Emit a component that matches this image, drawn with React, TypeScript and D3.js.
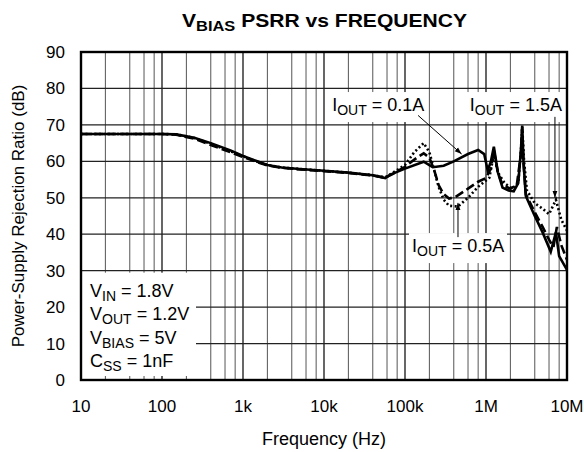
import React from "react";
import * as d3 from "d3";

// frequency (Hz) / PSRR (dB)
const freqSolid = [10, 100, 150, 250, 400, 700, 1000, 1500, 2000, 3000, 5000, 10000, 20000, 40000, 57000, 65000, 100000, 170000, 220000, 300000, 400000, 600000, 800000, 950000, 1050000, 1150000, 1250000, 1400000, 1600000, 1900000, 2200000, 2500000, 2700000, 2800000, 2900000, 3100000, 4000000, 5000000, 6300000, 7300000, 8000000, 10000000];
const psrrSolid = [67.5, 67.5, 67.4, 66.5, 65, 63, 61.5, 60, 59, 58.3, 57.9, 57.4, 56.9, 56.2, 55.4, 56.3, 58, 59.9, 58.4, 58.8, 60, 62, 63.1, 62, 57.5, 60, 64, 57, 52.8, 52, 51.8, 54, 63, 69.8, 60, 50.5, 45, 40.5, 35.2, 40.5, 34, 30.2];

const freqDashed = [10, 100, 150, 250, 400, 700, 1000, 1500, 2000, 3000, 5000, 10000, 20000, 40000, 57000, 70000, 100000, 140000, 170000, 200000, 230000, 260000, 300000, 350000, 420000, 600000, 800000, 1000000, 1150000, 1250000, 1400000, 1600000, 2000000, 2400000, 2700000, 2800000, 2900000, 3100000, 4000000, 5000000, 6000000, 6800000, 7500000, 8500000, 10000000];
const psrrDashed = [67.5, 67.5, 67.3, 66.2, 64.5, 62.5, 61.2, 59.8, 58.9, 58.2, 57.8, 57.3, 56.8, 56.1, 55.5, 56.5, 58.5, 61, 62.2, 61, 57.5, 53.5, 51, 49.8, 50.2, 52.5, 54.4, 55.4, 58, 63, 57, 53.5, 52.5, 53.5, 62, 69, 60, 51, 46, 42, 38.5, 36.5, 42, 37, 33];

const freqDotted = [10, 100, 150, 250, 400, 700, 1000, 1500, 2000, 3000, 5000, 10000, 20000, 40000, 57000, 70000, 100000, 130000, 170000, 200000, 230000, 260000, 300000, 350000, 450000, 600000, 800000, 1100000, 1250000, 1400000, 1700000, 2100000, 2500000, 2700000, 2800000, 2950000, 3200000, 4000000, 5000000, 6000000, 7300000, 8500000, 10000000];
const psrrDotted = [67.5, 67.5, 67.4, 66.4, 64.8, 62.8, 61.4, 59.9, 59, 58.3, 57.9, 57.4, 56.9, 56.2, 55.6, 56.8, 59, 62.5, 65, 62.5, 57.5, 53, 49.5, 47.8, 47.6, 50, 53, 55.5, 62, 57, 54, 52.5, 54, 63, 69.5, 60, 52, 48.5, 47, 45.5, 49.4, 44, 41];

const xTicks = [10, 100, 1000, 10000, 100000, 1000000, 10000000];
const xTickLabels = ["10", "100", "1k", "10k", "100k", "1M", "10M"];
const yTicks = [0, 10, 20, 30, 40, 50, 60, 70, 80, 90];
const minorSteps = [2, 4, 6, 8];
const conditions = [
  ["V", "IN", " = 1.8V"],
  ["V", "OUT", " = 1.2V"],
  ["V", "BIAS", " = 5V"],
  ["C", "SS", " = 1nF"],
];

const width = 584, height = 452;
const margin = { top: 52, right: 17, bottom: 72, left: 81 };
const font = "'Liberation Sans', Arial, sans-serif";

export default function App() {
  const x = d3.scaleLog().domain([10, 1e7]).range([margin.left, width - margin.right]);
  const y = d3.scaleLinear().domain([0, 90]).range([height - margin.bottom, margin.top]);

  const line = d3.line<[number, number]>().x(d => x(d[0])).y(d => y(d[1]));
  const pts = (f: number[], v: number[]) => f.map((ff, i) => [ff, v[i]] as [number, number]);

  const minor: number[] = [];
  xTicks.slice(0, -1).forEach(t => minorSteps.forEach(s => minor.push(t * s)));

  const sub = (main: string, s: string, rest: string, fs: number) => (
    <>
      {main}
      <tspan dy={4} fontSize={fs * 0.78}>{s}</tspan>
      <tspan dy={-4}>{rest}</tspan>
    </>
  );

  // annotation anchors in data units
  const a01 = { fx: 12600, db: 73.8 };
  const a15 = { fx: 630000, db: 73.8 };
  const a05 = { fx: 122000, db: 35.1 };

  return (
    <svg width={width} height={height} style={{ position: "absolute", left: 0, top: 0, background: "#fff" }} fontFamily={font}>
      <defs>
        <marker id="arr" viewBox="0 0 10 10" refX="10" refY="5" markerWidth="7" markerHeight="7" orient="auto">
          <path d="M0,1.5 L10,5 L0,8.5 Z" fill="#000" />
        </marker>
      </defs>
      <text x={182} y={27} fontWeight="bold" fontSize={19} textLength={285} lengthAdjust="spacingAndGlyphs">
        {sub("V", "BIAS", " PSRR vs FREQUENCY", 19)}
      </text>

      {/* grid */}
      {minor.map(m => (
        <line key={"m" + m} x1={x(m)} x2={x(m)} y1={y(0)} y2={y(90)} stroke="#555" strokeWidth={1} />
      ))}
      {xTicks.map(t => (
        <line key={"d" + t} x1={x(t)} x2={x(t)} y1={y(0)} y2={y(90)} stroke="#000" strokeWidth={1.2} />
      ))}
      {yTicks.map(t => (
        <line key={"h" + t} x1={x(10)} x2={x(1e7)} y1={y(t)} y2={y(t)} stroke="#222" strokeWidth={1.2} />
      ))}

      {/* condition box */}
      <rect x={x(10) + 1} y={y(30) + 2} width={114} height={y(0) - y(30) - 6} fill="#fff" />
      {conditions.map((r, i) => (
        <text key={i} x={x(10) + 9} y={297 + i * 23.3} fontSize={18}>
          {sub(r[0], r[1], r[2], 18)}
        </text>
      ))}

      {/* label backgrounds */}
      <rect x={x(a01.fx) - 3} y={y(a01.db) - 19} width={98} height={30} fill="#fff" />
      <rect x={x(a15.fx) - 3} y={y(a15.db) - 19} width={98} height={30} fill="#fff" />
      <rect x={x(a05.fx) - 3} y={y(a05.db) - 19} width={98} height={30} fill="#fff" />

      {/* curves */}
      <path d={line(pts(freqDotted, psrrDotted)) || ""} fill="none" stroke="#000" strokeWidth={2.6} strokeDasharray="2,2.5" />
      <path d={line(pts(freqDashed, psrrDashed)) || ""} fill="none" stroke="#000" strokeWidth={2.6} strokeDasharray="9,4" />
      <path d={line(pts(freqSolid, psrrSolid)) || ""} fill="none" stroke="#000" strokeWidth={2.6} />

      {/* annotations */}
      <text x={x(a01.fx)} y={y(a01.db)} fontSize={18}>{sub("I", "OUT", " = 0.1A", 18)}</text>
      <text x={x(a15.fx)} y={y(a15.db)} fontSize={18}>{sub("I", "OUT", " = 1.5A", 18)}</text>
      <text x={x(a05.fx)} y={y(a05.db)} fontSize={18}>{sub("I", "OUT", " = 0.5A", 18)}</text>
      <line x1={x(145000)} y1={y(72.6)} x2={x(500000)} y2={y(62)} stroke="#000" strokeWidth={1} markerEnd="url(#arr)" />
      <line x1={x(7100000)} y1={y(72.2)} x2={x(7100000)} y2={y(50)} stroke="#000" strokeWidth={1} markerEnd="url(#arr)" />
      <line x1={x(451000)} y1={y(39.2)} x2={x(451000)} y2={y(48.6)} stroke="#000" strokeWidth={1} markerEnd="url(#arr)" />

      {/* frame */}
      <rect x={x(10)} y={y(90)} width={x(1e7) - x(10)} height={y(0) - y(90)} fill="none" stroke="#000" strokeWidth={2.4} />

      {/* ticks */}
      {yTicks.map(t => (
        <text key={"yl" + t} x={x(10) - 16} y={y(t) + 6} textAnchor="end" fontSize={17}>{t}</text>
      ))}
      {xTicks.map((t, i) => (
        <text key={"xl" + t} x={x(t)} y={412} textAnchor="middle" fontSize={17}>{xTickLabels[i]}</text>
      ))}
      <text x={324} y={445} textAnchor="middle" fontSize={18}>Frequency (Hz)</text>
      <text transform={`translate(24,${(y(0) + y(90)) / 2}) rotate(-90)`} textAnchor="middle" fontSize={17}>
        Power-Supply Rejection Ratio (dB)
      </text>
    </svg>
  );
}
